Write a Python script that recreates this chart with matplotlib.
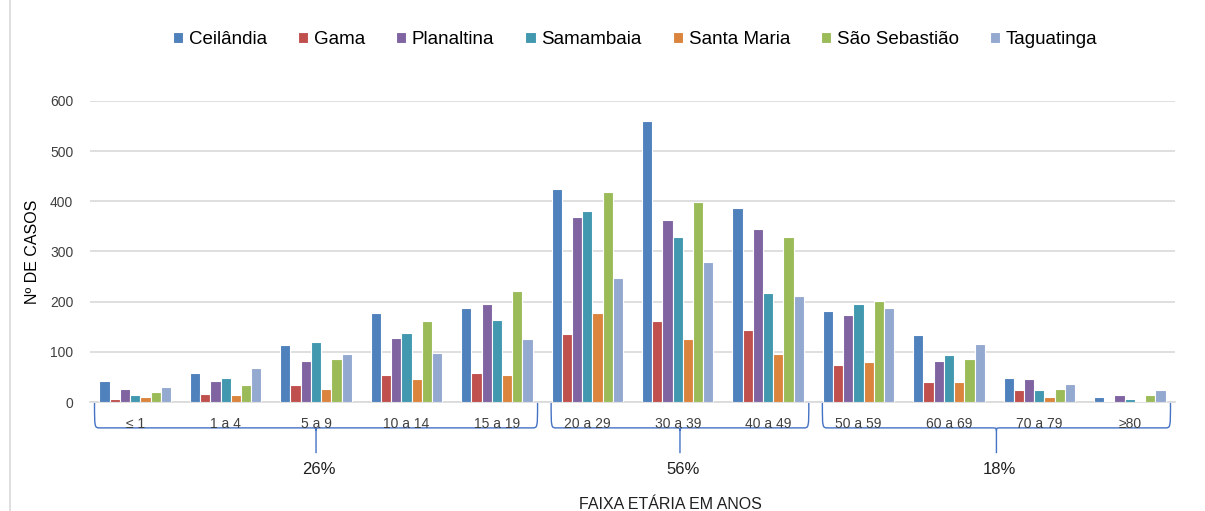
import numpy as np
import matplotlib
matplotlib.use("Agg")
import matplotlib.pyplot as plt
from matplotlib.path import Path
import matplotlib.patches as mpatches
from matplotlib.lines import Line2D
from matplotlib.transforms import blended_transform_factory

plt.rcParams["font.family"] = ["Liberation Sans", "DejaVu Sans"]

age_groups = ["≤ 1", "1 a 4", "5 a 9", "10 a 14", "15 a 19", "20 a 29",
              "30 a 39", "40 a 49", "50 a 59", "60 a 69", "70 a 79", "≥80"]

ceilandia = [42, 57, 113, 178, 188, 425, 560, 386, 181, 133, 47, 9]
gama = [6, 15, 33, 54, 57, 135, 162, 143, 73, 39, 23, 1]
planaltina = [25, 42, 82, 128, 195, 369, 362, 345, 173, 82, 45, 13]
samambaia = [13, 47, 120, 137, 164, 381, 329, 217, 195, 94, 23, 6]
santa_maria = [9, 13, 25, 45, 54, 178, 126, 95, 80, 39, 9, 1]
sao_sebastiao = [20, 33, 85, 162, 221, 419, 398, 329, 202, 85, 25, 13]
taguatinga = [30, 68, 96, 97, 125, 247, 279, 212, 188, 116, 35, 23]

series_names = ["Ceilândia", "Gama", "Planaltina", "Samambaia",
                "Santa Maria", "São Sebastião", "Taguatinga"]
series_colors = ["#4F81BD", "#C0504D", "#8064A2", "#4198AF",
                 "#DB843D", "#9BBB59", "#93A9CF"]

# groups of age ranges with their share of cases
group_spans = [(0, 4), (5, 7), (8, 11)]
group_shares = ["26%", "56%", "18%"]

series = [ceilandia, gama, planaltina, samambaia, santa_maria,
          sao_sebastiao, taguatinga]

fig = plt.figure(figsize=(12.05, 5.11), dpi=100)
ax = fig.add_axes([90 / 1205, 109 / 511, 1085 / 1205, 301 / 511])

x = np.arange(len(age_groups))
n = len(series)
slot = 0.113
for k, (vals, name, col) in enumerate(zip(series, series_names, series_colors)):
    offs = (k - (n - 1) / 2) * slot
    ax.bar(x + offs, vals, width=slot, color=col, edgecolor="white",
           linewidth=0.8, label=name, zorder=3)

ax.set_xlim(-0.5, len(age_groups) - 0.5)
ax.set_ylim(0, 600)
ax.set_yticks(range(0, 601, 100))
ax.yaxis.grid(True, color="#D9D9D9", linewidth=1.2, zorder=0)
for s in ["top", "right", "left"]:
    ax.spines[s].set_visible(False)
ax.spines["bottom"].set_color("#D9D9D9")
ax.spines["bottom"].set_linewidth(1.2)
ax.tick_params(axis="y", length=0, labelsize=10, labelcolor="#404040", pad=12)
ax.tick_params(axis="x", length=0, labelsize=10, labelcolor="#404040", pad=11)
ax.set_xticks(x)
ax.set_xticklabels(age_groups)
ax.set_ylabel("Nº DE CASOS", fontsize=11.5, labelpad=7)

# curly braces under the groups
tr = blended_transform_factory(ax.transData, ax.transAxes)
y_top, y_mid, y_tip = -0.003, -0.086, -0.17
r = 0.06
for (i0, i1), share in zip(group_spans, group_shares):
    x0 = i0 - 0.45 if i0 == 0 else i0 - 0.4
    x1 = i1 + 0.45
    xm = (x0 + x1) / 2
    verts = [
        (x0, y_top), (x0, y_mid), (x0, y_mid), (x0 + r, y_mid),
        (xm - r, y_mid),
        (xm, y_mid), (xm, y_mid), (xm, y_mid - 0.01),
        (xm, y_tip),
        (xm, y_mid - 0.01), (xm, y_mid), (xm, y_mid), (xm + r, y_mid),
        (x1 - r, y_mid),
        (x1, y_mid), (x1, y_mid), (x1, y_top),
    ]
    codes = [Path.MOVETO, Path.CURVE4, Path.CURVE4, Path.CURVE4,
             Path.LINETO,
             Path.CURVE4, Path.CURVE4, Path.CURVE4,
             Path.LINETO,
             Path.MOVETO, Path.CURVE4, Path.CURVE4, Path.CURVE4,
             Path.LINETO,
             Path.CURVE4, Path.CURVE4, Path.CURVE4]
    ax.add_patch(mpatches.PathPatch(Path(verts, codes), transform=tr,
                                    fill=False, edgecolor="#4472C4",
                                    linewidth=1.0, clip_on=False))
    ax.text(xm + 0.03, -0.225, share, transform=tr, ha="center", va="center",
            fontsize=12, color="#202020")

ax.text(0.535, -0.34, "FAIXA ETÁRIA EM ANOS", transform=ax.transAxes,
        ha="center", va="center", fontsize=11.5, color="#202020")

ax.legend(loc="center", bbox_to_anchor=(0.527, 0.922), bbox_transform=fig.transFigure,
          ncol=7, frameon=False, fontsize=13.5, handlelength=0.55,
          handleheight=0.55, handletextpad=0.3, columnspacing=1.65)

fig.add_artist(Line2D([10 / 1205, 10 / 1205], [0, 1], transform=fig.transFigure,
                      color="#D9D9D9", linewidth=1.2))

fig.savefig("out.png", dpi=100)
